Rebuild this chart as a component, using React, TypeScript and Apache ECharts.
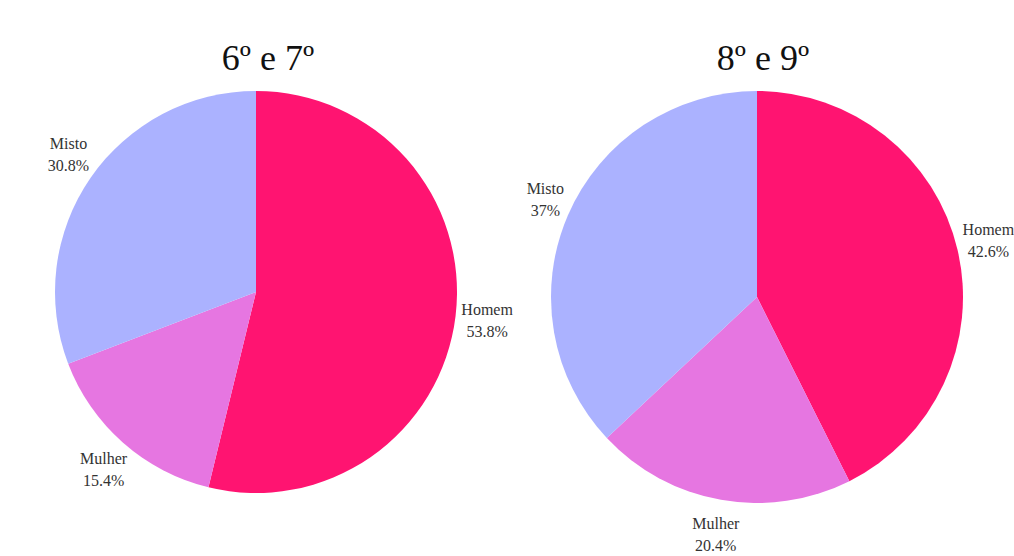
import React, { useEffect, useRef } from "react";
import * as echarts from "echarts";

const categories = ["Homem", "Mulher", "Misto"];
const values67 = [53.8, 15.4, 30.8];
const values89 = [42.6, 20.4, 37];
const titles = ["6º e 7º", "8º e 9º"];
const colors = ["#ff1471", "#e676e1", "#abb2ff"];

const pies = [
  { center: [256, 292], radius: 201, values: values67, titleX: 268 },
  { center: [757, 297], radius: 206, values: values89, titleX: 763 },
];

const serif = "'Liberation Serif', 'Times New Roman', Times, serif";
const fmt = (v: number) => `${v}%`;

export default function App() {
  const ref = useRef<HTMLDivElement>(null);
  useEffect(() => {
    if (!ref.current) return;
    const chart = echarts.init(ref.current, undefined, { renderer: "svg" });
    const series = pies.map((pie) => {
      const total = pie.values.reduce((a, b) => a + b, 0);
      return {
        type: "pie",
        center: pie.center,
        radius: pie.radius,
        startAngle: 90,
        clockwise: true,
        avoidLabelOverlap: false,
        color: colors,
        data: categories.map((name, i) => ({ name, value: pie.values[i] })),
        itemStyle: { borderWidth: 0 },
        emphasis: { disabled: true },
        label: {
          show: true,
          position: "outside",
          formatter: (p: any) => `${p.name}\n${fmt(p.value)}`,
          fontFamily: serif,
          fontSize: 16,
          lineHeight: 22,
          color: "#333",
        },
        labelLine: { show: false },
        labelLayout: (p: any) => {
          let cum = 0;
          for (let i = 0; i < p.dataIndex; i++) cum += pie.values[i];
          const mid = ((cum + pie.values[p.dataIndex] / 2) / total) * Math.PI * 2;
          const s = Math.sin(mid);
          const c = Math.cos(mid);
          const ex = pie.center[0] + pie.radius * s;
          const ey = pie.center[1] - pie.radius * c;
          const w = p.labelRect.width;
          const h = p.labelRect.height;
          const gap = 6;
          const k = c > 0 ? 1.45 : 1.25;
          return {
            x: ex + s * (gap + w / 2),
            y: ey - c * (gap + h / 2) * k,
            align: "center",
            verticalAlign: "middle",
          };
        },
      };
    });
    chart.setOption({
      animation: false,
      backgroundColor: "#fff",
      title: pies.map((pie, i) => ({
        text: titles[i],
        left: pie.titleX,
        top: 40,
        padding: 0,
        textAlign: "center",
        textStyle: {
          fontFamily: serif,
          fontSize: 36,
          fontWeight: "normal",
          color: "#111",
        },
      })),
      series,
    });
    return () => chart.dispose();
  }, []);
  return (
    <div
      ref={ref}
      style={{ position: "fixed", left: 0, top: 0, width: 1014, height: 556 }}
    />
  );
}
